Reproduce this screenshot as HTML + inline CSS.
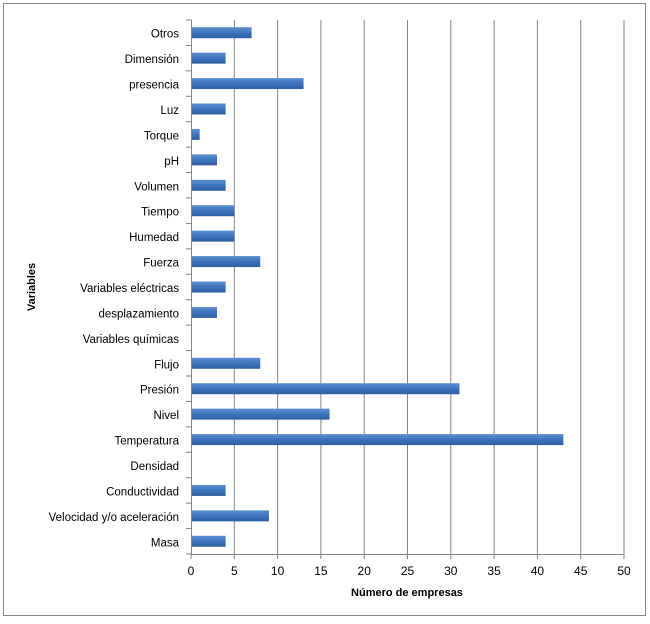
<!DOCTYPE html>
<html><head><meta charset="utf-8"><style>
body{margin:0;background:#fff;}
svg text{font-family:"Liberation Sans",sans-serif;fill:#000;}
</style></head><body>
<svg id="c" width="650" height="619" xmlns="http://www.w3.org/2000/svg">
<rect x="3.5" y="3.5" width="642" height="612" fill="#fff" stroke="#888"/>
<g id="grid"></g><g id="bars"></g><g id="axes"></g>
<text x="407" y="596" font-size="11" font-weight="bold" text-anchor="middle">Número de empresas</text>
<text transform="translate(35,287) rotate(-90)" font-size="11" font-weight="bold" text-anchor="middle">Variables</text>
</svg>
<script>
const categories=["Otros","Dimensión","presencia","Luz","Torque","pH","Volumen","Tiempo","Humedad","Fuerza","Variables eléctricas","desplazamiento","Variables químicas","Flujo","Presión","Nivel","Temperatura","Densidad","Conductividad","Velocidad y/o aceleración","Masa"];
const values=[7,4,13,4,1,3,4,5,5,8,4,3,0,8,31,16,43,0,4,9,4];
const xTicks=[0,5,10,15,20,25,30,35,40,45,50];
const NS="http://www.w3.org/2000/svg";
const L=191,R=624,T=20,B=554;
const xs=v=>L+(v-0)/50*(R-L);
const band=(B-T)/categories.length;
const yc=i=>T+band*(i+0.5);
function mk(p,t,a){const e=document.createElementNS(NS,t);for(const k in a)e.setAttribute(k,a[k]);document.getElementById(p).appendChild(e);return e;}
xTicks.forEach(t=>{
 if(t>0){const g=mk('grid','line',{x1:xs(t),x2:xs(t),y1:T,y2:B,stroke:'#868686','stroke-width':1});
 
 }
 const tk=mk('axes','line',{x1:xs(t),x2:xs(t),y1:B,y2:B+5,stroke:'#868686'});
 
 
 const tx=mk('axes','text',{x:xs(t),y:B+21,'font-size':12,'text-anchor':'middle'});tx.textContent=t;
 
 
});
const ax=mk('axes','line',{x1:L,x2:R,y1:B+.5,y2:B+.5,stroke:'#868686'});


const ay=mk('axes','line',{x1:L+.5,x2:L+.5,y1:T,y2:B,stroke:'#868686'});


const defs=mk('bars','defs',{});
defs.innerHTML='<linearGradient id="bg" x1="0" y1="0" x2="0" y2="1"><stop offset="0" stop-color="#5d8fd0"/><stop offset="0.5" stop-color="#3d74bd"/><stop offset="1" stop-color="#2e5f9f"/></linearGradient>';
for(let i=0;i<=categories.length;i++){
 const y=T+band*i;
 const k=mk('axes','line',{x1:L-5,x2:L,y1:y,y2:y,stroke:'#868686'});
 
 
}
categories.forEach((c,i)=>{
 const r=mk('bars','rect',{x:L+1,y:yc(i)-5.5,width:Math.max(0,xs(values[i])-L-1),height:11,fill:'url(#bg)'});
 
 
 const t=mk('axes','text',{x:L-12,y:yc(i)+5,'font-size':11.5,'text-anchor':'end'});t.textContent=c;
 
 
});
</script>
</body></html>
